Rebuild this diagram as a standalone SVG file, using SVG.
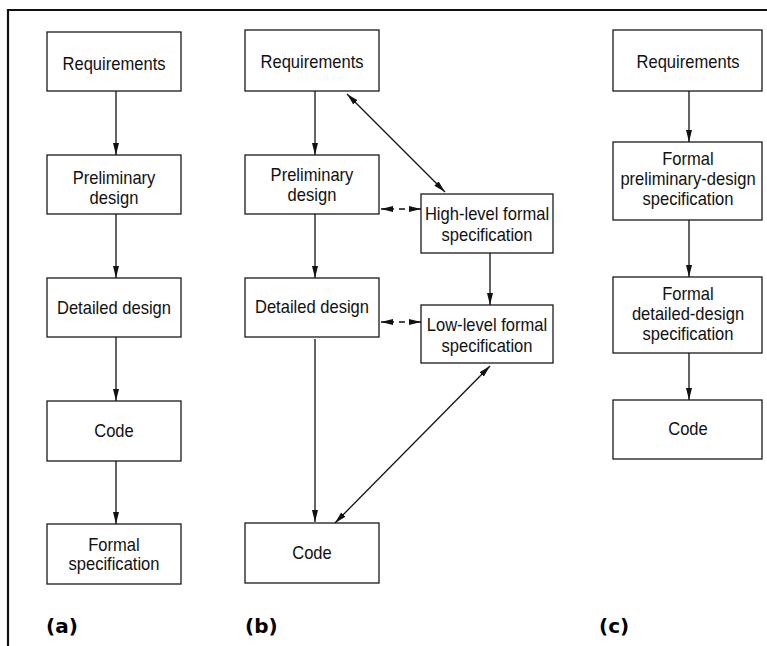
<svg xmlns="http://www.w3.org/2000/svg" width="767" height="646" viewBox="0 0 767 646">
<style>
.box{fill:#fff;stroke:#1a1a1a;stroke-width:1.3}
.t{font-family:"Liberation Sans",Arial,sans-serif;font-size:18px;fill:#111;text-anchor:middle;transform:scaleX(0.92);transform-box:fill-box;transform-origin:center}
.lbl{font-family:"DejaVu Sans","Liberation Sans",sans-serif;font-weight:bold;font-size:20px;fill:#000}
.c{stroke:#111;stroke-width:1.3;fill:none}
.one{marker-end:url(#ah)}
.two{marker-start:url(#ah);marker-end:url(#ah)}
.frame{stroke:#111;stroke-width:2.2;fill:none}
</style>
<defs>
<marker id="ah" markerUnits="userSpaceOnUse" markerWidth="13" markerHeight="7" refX="12" refY="3" orient="auto-start-reverse">
<path d="M0,0 L12,3 L0,6 z" fill="#111"/>
</marker>
</defs>
<path class="frame" d="M767,10 H8 V646"/>

<g id="a-req"><rect class="box" x="47" y="32" width="134" height="59"/><text class="t" x="114" y="70">Requirements</text></g>
<g id="a-prelim"><rect class="box" x="47" y="155" width="134" height="59"/><text class="t" x="114" y="184">Preliminary</text><text class="t" x="114" y="204">design</text></g>
<g id="a-detailed"><rect class="box" x="47" y="278" width="134" height="59"/><text class="t" x="114" y="314">Detailed design</text></g>
<g id="a-code"><rect class="box" x="47" y="401" width="134" height="60"/><text class="t" x="114" y="437">Code</text></g>
<g id="a-formal"><rect class="box" x="47" y="524" width="134" height="60"/><text class="t" x="114" y="551">Formal</text><text class="t" x="114" y="570">specification</text></g>

<g id="b-req"><rect class="box" x="245" y="30" width="134" height="61"/><text class="t" x="312" y="68">Requirements</text></g>
<g id="b-prelim"><rect class="box" x="245" y="155" width="134" height="59"/><text class="t" x="312" y="181">Preliminary</text><text class="t" x="312" y="201">design</text></g>
<g id="b-detailed"><rect class="box" x="245" y="278" width="134" height="59"/><text class="t" x="312" y="313">Detailed design</text></g>
<g id="b-code"><rect class="box" x="245" y="523" width="134" height="60"/><text class="t" x="312" y="559">Code</text></g>
<g id="b-high"><rect class="box" x="421" y="194" width="132" height="59"/><text class="t" x="487" y="220">High-level formal</text><text class="t" x="487" y="241">specification</text></g>
<g id="b-low"><rect class="box" x="421" y="305" width="132" height="58"/><text class="t" x="487" y="331">Low-level formal</text><text class="t" x="487" y="352">specification</text></g>

<g id="c-req"><rect class="box" x="613" y="30" width="149" height="61"/><text class="t" x="688" y="68">Requirements</text></g>
<g id="c-prelim"><rect class="box" x="613" y="142" width="149" height="78"/><text class="t" x="688" y="165">Formal</text><text class="t" x="688" y="185">preliminary-design</text><text class="t" x="688" y="205">specification</text></g>
<g id="c-detailed"><rect class="box" x="613" y="277" width="149" height="76"/><text class="t" x="688" y="300">Formal</text><text class="t" x="688" y="320">detailed-design</text><text class="t" x="688" y="340">specification</text></g>
<g id="c-code"><rect class="box" x="613" y="400" width="149" height="59"/><text class="t" x="688" y="435">Code</text></g>

<g id="labels">
<text class="lbl" x="46" y="633">(a)</text>
<text class="lbl" x="245" y="633">(b)</text>
<text class="lbl" x="599" y="633">(c)</text>
</g>

<g id="connectors">
<line class="c one" x1="116" y1="91" x2="116" y2="155"/>
<line class="c one" x1="116" y1="214" x2="116" y2="278"/>
<line class="c one" x1="116" y1="337" x2="116" y2="401"/>
<line class="c one" x1="116" y1="461" x2="116" y2="524"/>

<line class="c one" x1="315" y1="91" x2="315" y2="155"/>
<line class="c one" x1="315" y1="214" x2="315" y2="278"/>
<line class="c one" x1="315" y1="339" x2="315" y2="522"/>
<line class="c two" x1="347" y1="94" x2="445" y2="192"/>
<line class="c one" x1="490" y1="253" x2="490" y2="305"/>
<line class="c two" x1="490" y1="366" x2="335" y2="523"/>
<line class="c two" x1="381" y1="209" x2="421" y2="209" stroke-dasharray="13 5 6 5 11"/>
<line class="c two" x1="381" y1="322" x2="421" y2="322" stroke-dasharray="13 5 6 5 11"/>

<line class="c one" x1="689" y1="91" x2="689" y2="142"/>
<line class="c one" x1="689" y1="220" x2="689" y2="277"/>
<line class="c one" x1="689" y1="353" x2="689" y2="400"/>
</g>
</svg>
